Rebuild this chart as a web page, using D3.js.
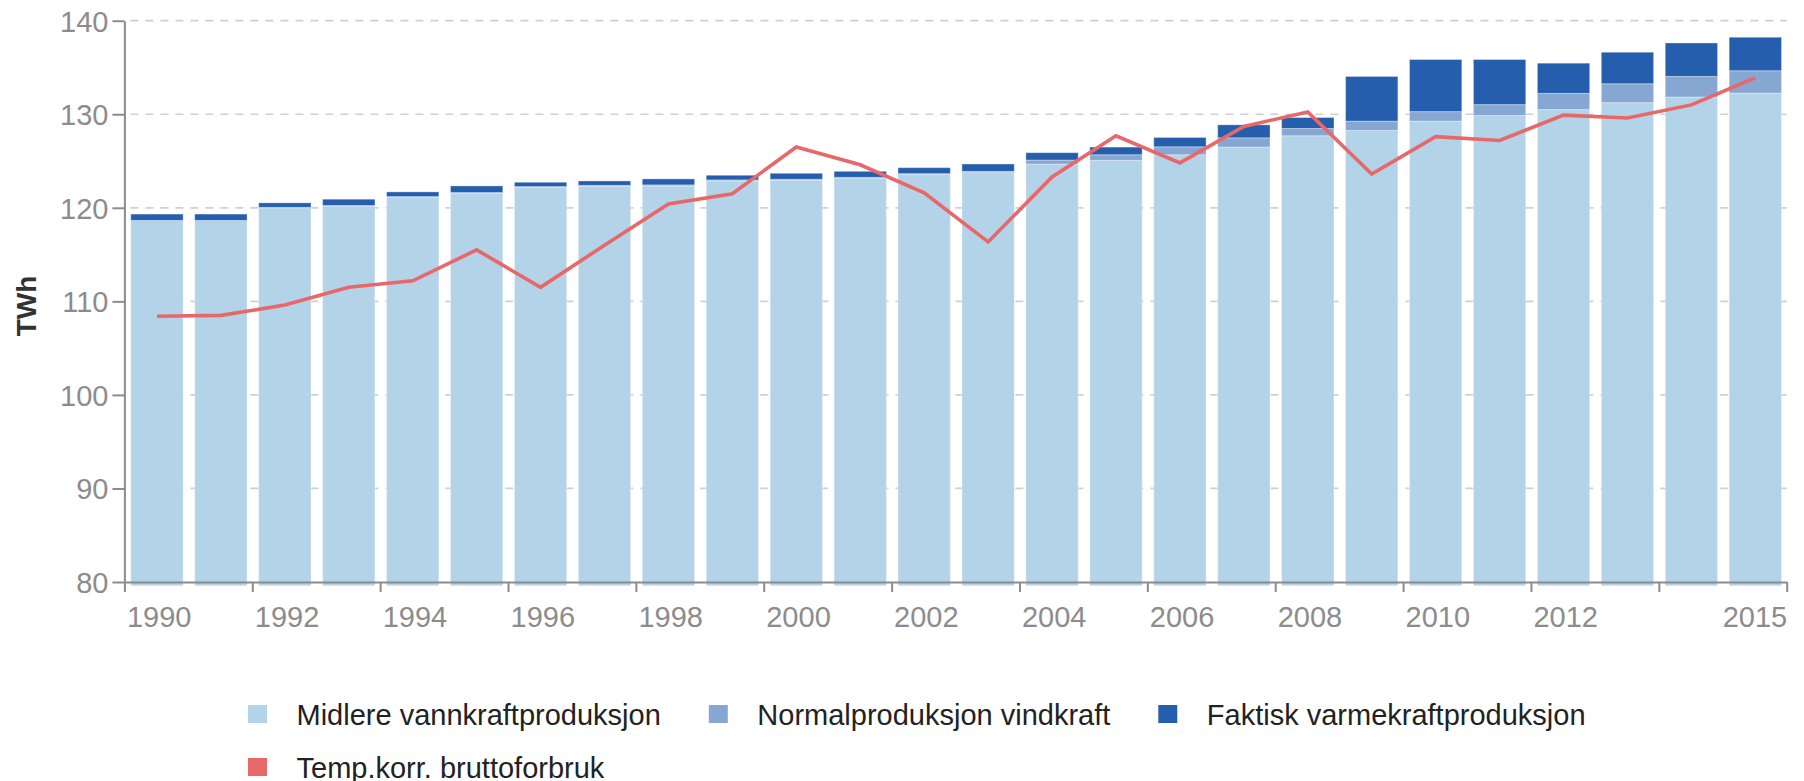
<!DOCTYPE html>
<html>
<head>
<meta charset="utf-8">
<script src="https://cdnjs.cloudflare.com/ajax/libs/d3/7.8.5/d3.min.js"></script>
<style>
  body { margin: 0; background: #fff; }
  text { font-family: "Liberation Sans", Arial, sans-serif; }
  .axis path, .axis line { stroke: #8c8c8c; stroke-width: 2; }
  .axis text { fill: #8c8c8c; font-size: 29px; }
  .grid line { stroke: #d0d0d0; stroke-width: 1.7; stroke-dasharray: 8,7; }
</style>
</head>
<body>
<div id="chart-bg"></div>
<script>
// TWh per aar
var data = [
  {year: 1990, hydro: 118.65, wind: 0.00, thermal: 0.68, forbruk: 108.4},
  {year: 1991, hydro: 118.65, wind: 0.00, thermal: 0.68, forbruk: 108.5},
  {year: 1992, hydro: 120.00, wind: 0.05, thermal: 0.48, forbruk: 109.6},
  {year: 1993, hydro: 120.20, wind: 0.05, thermal: 0.67, forbruk: 111.5},
  {year: 1994, hydro: 121.15, wind: 0.05, thermal: 0.50, forbruk: 112.2},
  {year: 1995, hydro: 121.55, wind: 0.08, thermal: 0.71, forbruk: 115.5},
  {year: 1996, hydro: 122.20, wind: 0.07, thermal: 0.46, forbruk: 111.5},
  {year: 1997, hydro: 122.30, wind: 0.10, thermal: 0.47, forbruk: 116.0},
  {year: 1998, hydro: 122.34, wind: 0.11, thermal: 0.64, forbruk: 120.4},
  {year: 1999, hydro: 122.88, wind: 0.10, thermal: 0.50, forbruk: 121.5},
  {year: 2000, hydro: 122.95, wind: 0.10, thermal: 0.64, forbruk: 126.5},
  {year: 2001, hydro: 123.15, wind: 0.11, thermal: 0.64, forbruk: 124.6},
  {year: 2002, hydro: 123.55, wind: 0.10, thermal: 0.64, forbruk: 121.6},
  {year: 2003, hydro: 123.76, wind: 0.14, thermal: 0.78, forbruk: 116.35},
  {year: 2004, hydro: 124.68, wind: 0.42, thermal: 0.79, forbruk: 123.3},
  {year: 2005, hydro: 125.07, wind: 0.60, thermal: 0.82, forbruk: 127.7},
  {year: 2006, hydro: 125.67, wind: 0.85, thermal: 1.00, forbruk: 124.8},
  {year: 2007, hydro: 126.49, wind: 0.99, thermal: 1.39, forbruk: 128.7},
  {year: 2008, hydro: 127.70, wind: 0.78, thermal: 1.17, forbruk: 130.25},
  {year: 2009, hydro: 128.26, wind: 1.00, thermal: 4.78, forbruk: 123.6},
  {year: 2010, hydro: 129.26, wind: 1.02, thermal: 5.57, forbruk: 127.6},
  {year: 2011, hydro: 129.86, wind: 1.17, thermal: 4.82, forbruk: 127.2},
  {year: 2012, hydro: 130.50, wind: 1.73, thermal: 3.23, forbruk: 129.9},
  {year: 2013, hydro: 131.24, wind: 2.02, thermal: 3.37, forbruk: 129.6},
  {year: 2014, hydro: 131.84, wind: 2.20, thermal: 3.58, forbruk: 131.0},
  {year: 2015, hydro: 132.27, wind: 2.38, thermal: 3.58, forbruk: 133.9}
];

var keys = ['hydro', 'wind', 'thermal'];
var colors = {hydro: '#b3d3e8', wind: '#87a7d3', thermal: '#255eac'};
var lineColor = '#e8686a';

var w = 1804;
var h = 781;
var padLeft = 124.4;
var padRight = 1786.7;
var padTop = 20.7;
var padBottom = 582;
var base = 79.6; // stolpene gaar litt under aksen

var svg = d3.select('#chart-bg').append('svg').
attr('width', w).
attr('height', h);

var x = d3.scaleLinear().domain([1990, 2016]).range([padLeft, padRight]);
var y = d3.scaleLinear().domain([80, 140]).range([padBottom, padTop]);

var band = x(1991) - x(1990);
var barPad = 6.4;
var barW = band - 11.6;

// rutenett
svg.append('g').
attr('class', 'grid').
selectAll('line').
data([90, 100, 110, 120, 130, 140]).
enter().
append('line').
attr('x1', padLeft + 6).
attr('x2', padRight).
attr('y1', function (d) {return y(d);}).
attr('y2', function (d) {return y(d);});

var stack = d3.stack().keys(keys);
var series = stack(data);

svg.append('g').
selectAll('g').
data(series).
enter().
append('g').
attr('fill', function (d) {return colors[d.key];}).
selectAll('rect').
data(function (d) {return d;}).
enter().
append('rect').
attr('x', function (d) {return x(d.data.year) + barPad;}).
attr('width', barW).
attr('y', function (d) {return y(d[1]);}).
attr('height', function (d) {return Math.max(0, y(Math.max(d[0], base)) - y(d[1]));}).
attr('stroke', 'rgba(255,255,255,0.35)').
attr('stroke-width', 1);

// linje
var line = d3.line().
x(function (d) {return x(d.year) + barPad + barW / 2;}).
y(function (d) {return y(d.forbruk);});

svg.append('path').
datum(data).
attr('fill', 'none').
attr('stroke', lineColor).
attr('stroke-width', 3.6).
attr('stroke-linejoin', 'miter').
attr('d', line);

// akser
var xAxis = d3.axisBottom(x).
tickValues([1990, 1992, 1994, 1996, 1998, 2000, 2002, 2004, 2006, 2008, 2010, 2012, 2014, 2016]).
tickSize(10).
tickSizeOuter(0).
tickFormat(function (d) {
  if (d === 2014) return '';
  if (d === 2016) return '2015';
  return d;
});

var gx = svg.append('g').
attr('class', 'axis').
attr('transform', 'translate(0,' + padBottom + ')').
call(xAxis);

gx.selectAll('text').
attr('text-anchor', function (d) {return d === 2016 ? 'end' : 'start';}).
attr('dx', function (d) {return d === 2016 ? 0 : 2;}).
attr('y', 0).
attr('dy', 45);

var yAxis = d3.axisLeft(y).
tickValues([80, 90, 100, 110, 120, 130, 140]).
tickSize(12).
tickSizeOuter(0).
tickPadding(4);

var gy = svg.append('g').
attr('class', 'axis').
attr('transform', 'translate(' + padLeft + ',0)').
call(yAxis);

gy.selectAll('text').attr('dy', '0.36em');

svg.append('text').
attr('transform', 'translate(36,' + 306 + ') rotate(-90)').
attr('text-anchor', 'middle').
attr('font-size', '28px').
attr('font-weight', 'bold').
attr('fill', '#333').
text('TWh');

// forklaring
var items = [
  {label: 'Midlere vannkraftproduksjon', color: colors.hydro},
  {label: 'Normalproduksjon vindkraft', color: colors.wind},
  {label: 'Faktisk varmekraftproduksjon', color: colors.thermal},
  {label: 'Temp.korr. bruttoforbruk', color: lineColor}
];

var legend = svg.append('g').attr('id', 'legend');
var lx = 248;
var ly = 705;
var rowH = 53;

items.forEach(function (it) {
  var g = legend.append('g');
  var t = g.append('text').
  attr('font-size', '29px').
  attr('fill', '#222').
  text(it.label);
  var tw = t.node().getComputedTextLength();
  if (lx + 48 + tw > w - 20) {
    lx = 248;
    ly += rowH;
  }
  g.append('rect').
  attr('x', lx).
  attr('y', ly).
  attr('width', 19).
  attr('height', 18).
  attr('fill', it.color);
  t.attr('x', lx + 48.5).attr('y', ly + 19.5);
  lx += 48.5 + tw + 48;
});
</script>
</body>
</html>
